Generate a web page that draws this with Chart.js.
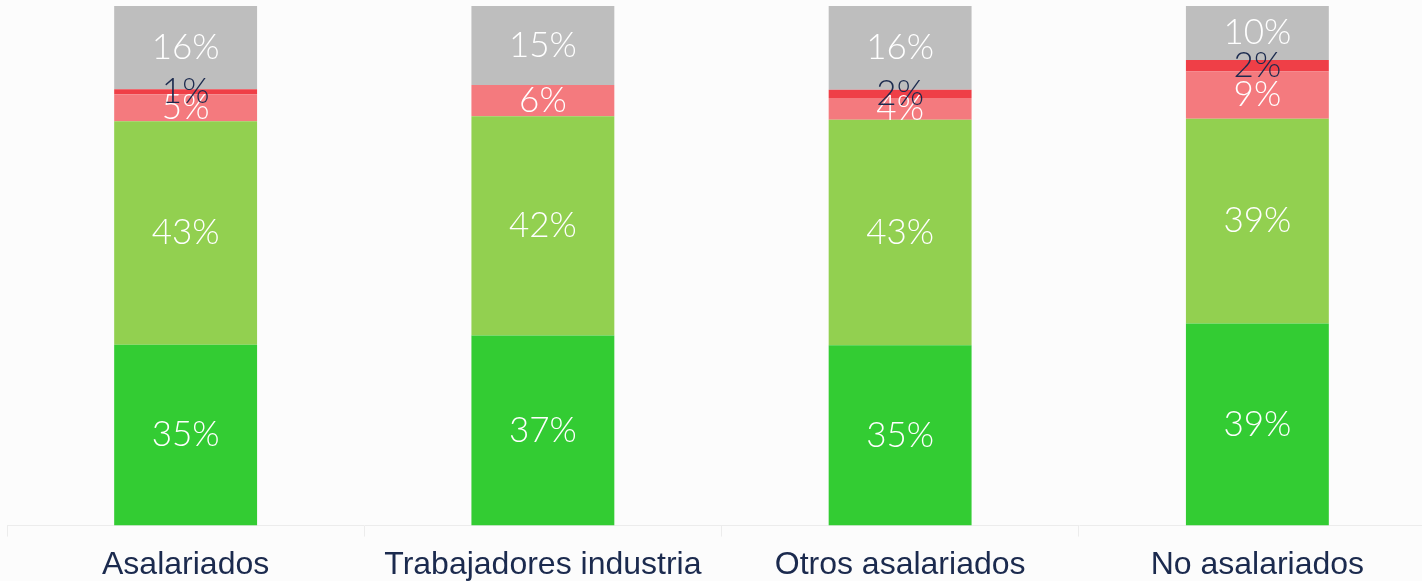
<!DOCTYPE html>
<html lang="es">
<head>
    <meta charset="UTF-8">
    <title>Distribución por tipo de trabajador</title>
    <script src="https://cdn.jsdelivr.net/npm/chart.js"></script>
    <style>
        body {
            margin: 0;
            background-color: #fcfcfc;
            overflow: hidden;
        }
        .chart-container {
            width: 1436px;
            height: 593px;
        }
    </style>
</head>
<body>
    <div class="chart-container">
        <canvas id="stackChart" width="1436" height="593"></canvas>
    </div>

    <script>
        const categories = ['Asalariados', 'Trabajadores industria', 'Otros asalariados', 'No asalariados'];

        // shares in %, bottom to top of each bar
        const serieVerde = [34.8, 36.6, 34.7, 38.9];
        const serieVerdeClaro = [43.0, 42.2, 43.4, 39.4];
        const serieRosa = [5.2, 6.0, 4.2, 9.1];
        const serieRoja = [1.0, 0, 1.6, 2.2];
        const serieGris = [16.0, 15.2, 16.1, 10.4];

        const navy = '#1b2a4e';

        // draws the percentage inside each segment
        const segmentLabels = {
            id: 'segmentLabels',
            afterDatasetsDraw(chart) {
                const ctx = chart.ctx;
                ctx.save();
                ctx.font = '300 35px Lato, "Open Sans", sans-serif';
                ctx.textAlign = 'center';
                ctx.textBaseline = 'middle';
                chart.data.datasets.forEach((ds, i) => {
                    const meta = chart.getDatasetMeta(i);
                    meta.data.forEach((bar, j) => {
                        const v = ds.data[j];
                        if (!v) return;
                        const yMid = (bar.y + bar.base) / 2;
                        ctx.fillStyle = ds.labelColor;
                        ctx.fillText(Math.round(v) + '%', bar.x, yMid);
                    });
                });
                ctx.restore();
            }
        };

        const ctx = document.getElementById('stackChart').getContext('2d');
        new Chart(ctx, {
            type: 'bar',
            data: {
                labels: categories,
                datasets: [
                    { label: 'a', data: serieVerde, backgroundColor: '#33cc33', labelColor: '#ffffff' },
                    { label: 'b', data: serieVerdeClaro, backgroundColor: '#92d050', labelColor: '#ffffff' },
                    { label: 'c', data: serieRosa, backgroundColor: '#f47a7e', labelColor: '#ffffff' },
                    { label: 'd', data: serieRoja, backgroundColor: '#ef3f47', labelColor: navy },
                    { label: 'e', data: serieGris, backgroundColor: '#bebebe', labelColor: '#ffffff' }
                ]
            },
            options: {
                responsive: false,
                animation: false,
                barPercentage: 0.4,
                categoryPercentage: 1,
                layout: { padding: { top: 6, left: 7, right: 0, bottom: 0 } },
                plugins: {
                    legend: { display: false },
                    tooltip: { enabled: false }
                },
                scales: {
                    x: {
                        stacked: true,
                        offset: true,
                        border: { display: true, color: '#ececec', width: 1 },
                        grid: {
                            offset: true,
                            drawOnChartArea: false,
                            drawTicks: true,
                            tickLength: 11,
                            color: '#ececec'
                        },
                        ticks: {
                            padding: 9,
                            color: navy,
                            font: { family: '"Liberation Sans", Arial, sans-serif', size: 32 }
                        }
                    },
                    y: {
                        stacked: true,
                        display: false,
                        min: 0,
                        max: 100
                    }
                }
            },
            plugins: [segmentLabels]
        });
    </script>
</body>
</html>
